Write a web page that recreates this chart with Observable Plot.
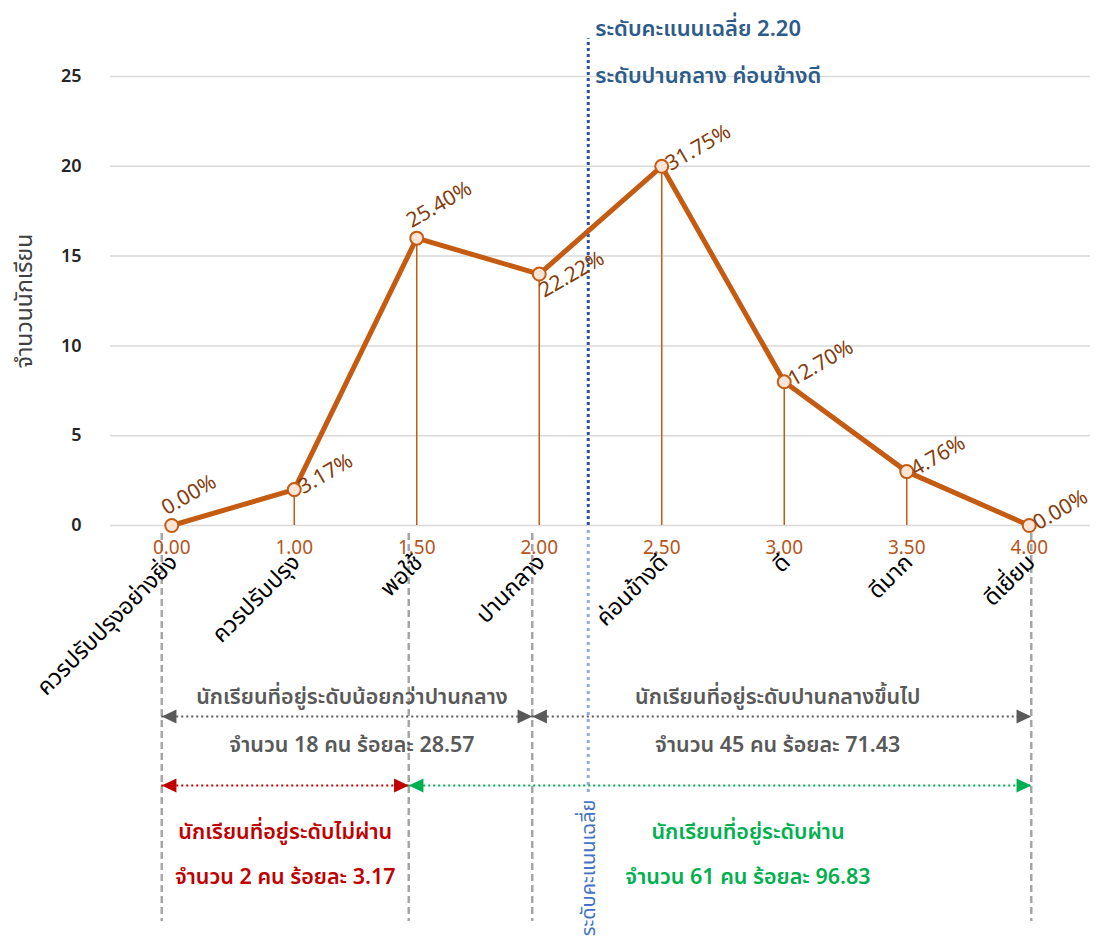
<!DOCTYPE html>
<html>
<head>
<meta charset="utf-8">
<script src="https://cdn.jsdelivr.net/npm/d3@7"></script>
<script src="https://cdn.jsdelivr.net/npm/@observablehq/plot@0.6"></script>
<style>
  body { margin: 0; background: #ffffff; }
  #chart svg { display: block; }
</style>
</head>
<body>
<div id="chart"></div>
<script>
// Score levels (categorical axis) and the number of students at each level
const scores = [0, 1, 1.5, 2, 2.5, 3, 3.5, 4];
const scoreLabels = ["0.00", "1.00", "1.50", "2.00", "2.50", "3.00", "3.50", "4.00"];
const levels = ["ควรปรับปรุงอย่างยิ่ง", "ควรปรับปรุง", "พอใช้", "ปานกลาง", "ค่อนข้างดี", "ดี", "ดีมาก", "ดีเยี่ยม"];
const students = [0, 2, 16, 14, 20, 8, 3, 0];
const yTicks = [0, 5, 10, 15, 20, 25];

// Mean score
const meanScore = 2.20;
const meanTitle = "ระดับคะแนนเฉลี่ย 2.20";
const meanLevel = "ระดับปานกลาง ค่อนข้างดี";
const meanAxisNote = "ระดับคะแนนเฉลี่ย";

// Summary ranges shown under the axis
const rangeFrom = [0, 2, 0, 1.5];
const rangeTo = [2, 4, 1.5, 4];
const rangeTitles = [
  "นักเรียนที่อยู่ระดับน้อยกว่าปานกลาง",
  "นักเรียนที่อยู่ระดับปานกลางขึ้นไป",
  "นักเรียนที่อยู่ระดับไม่ผ่าน",
  "นักเรียนที่อยู่ระดับผ่าน"
];
const rangeCounts = [18, 45, 2, 61];
const rangePercents = [28.57, 71.43, 3.17, 96.83];

// ---- layout & styling ----
const W = 1098, H = 939, MT = 76, MB = 414, ML = 110, MR = 8;
const unit = (H - MT - MB) / 25;             // pixels per student
const colPx = (W - ML - MR) / 8;              // pixels per category
const below = px => -px / unit;               // a distance under the x axis, in y units
const FONT = "Tahoma, 'Leelawadee UI', 'Noto Sans Thai', 'Noto Sans', 'DejaVu Sans', sans-serif";
const ORANGE = "#C55A11";
const rangeColors = ["#595959", "#595959", "#C00000", "#00B050"];
const rangeRowOffset = [191, 191, 260, 260];     // arrow row
const rangeTextOffset = [172, 172, 307, 307];    // title row
const rangeTextShift = [5, -4, 0, 28];           // horizontal nudge of the captions (px)
// boundary guides sit just left of their category, except the last one
const edgeNudge = s => (s < 4 ? (s === 0 ? -10 : s === 1.5 ? -8 : -7) : 2);
// where each percentage label sits relative to its point
const labelPlacement = ["above", "right", "above", "below", "right", "right", "right", "right"];

const toIdx = d3.scaleLinear(scores, d3.range(scores.length));
const edge = s => toIdx(s) + edgeNudge(s) / colPx;
const total = d3.sum(students);

const rows = scores.map((s, i) => ({
  i, score: s, label: scoreLabels[i], level: levels[i], n: students[i],
  pct: (students[i] / total * 100).toFixed(2) + "%", place: labelPlacement[i]
}));

const ranges = rangeFrom.map((f, k) => ({
  x1: edge(f), x2: edge(rangeTo[k]),
  xm: (edge(f) + edge(rangeTo[k])) / 2 + rangeTextShift[k] / colPx,
  title: rangeTitles[k],
  detail: `จำนวน ${rangeCounts[k]} คน ร้อยละ ${rangePercents[k].toFixed(2)}`,
  color: rangeColors[k], row: below(rangeRowOffset[k]),
  tTitle: below(rangeTextOffset[k]), tDetail: below(rangeTextOffset[k] + (k > 1 ? 45 : 48))
}));

const boundaries = Array.from(new Set([...rangeFrom, ...rangeTo])).sort((a, b) => a - b);

// filled triangular arrow heads with the tip at the anchor point
const headRight = { draw(ctx, size) { const r = Math.sqrt(size / Math.PI); ctx.moveTo(0, 0); ctx.lineTo(-2.1 * r, -r); ctx.lineTo(-2.1 * r, r); ctx.closePath(); } };
const headLeft = { draw(ctx, size) { const r = Math.sqrt(size / Math.PI); ctx.moveTo(0, 0); ctx.lineTo(2.1 * r, -r); ctx.lineTo(2.1 * r, r); ctx.closePath(); } };

const pctText = (place, dx, dy) => Plot.text(rows.filter(d => d.place === place), {
  x: "i", y: "n", text: "pct", rotate: -30, textAnchor: "start", lineAnchor: "bottom",
  dx, dy, fill: "#843C0C", fontSize: 21
});

const chart = Plot.plot({
  width: W, height: H,
  marginTop: MT, marginBottom: MB, marginLeft: ML, marginRight: MR,
  x: { domain: [-0.5, 7.5], axis: null },
  y: { domain: [0, 25], axis: null },
  color: { type: "identity" },
  style: { fontFamily: FONT, background: "#ffffff", overflow: "visible" },
  marks: [
    // gridlines
    Plot.ruleY(yTicks, { stroke: "#D9D9D9", strokeWidth: 1.5 }),
    // y tick labels
    Plot.text(yTicks, { frameAnchor: "left", y: d => d, text: d => String(d), textAnchor: "end", dx: -29,
      fontSize: 18, fontWeight: 600, fill: "#262626" }),
    // y axis title
    Plot.text(["จำนวนนักเรียน"], { frameAnchor: "left", textAnchor: "middle", rotate: -90, dx: -86,
      fontSize: 23, fill: "#404040" }),

    // dashed range boundaries under the axis
    Plot.ruleX(boundaries, { x: edge, y1: below(8), y2: below(396),
      stroke: "#A6A6A6", strokeWidth: 2.5, strokeDasharray: "7,4" }),

    // mean score marker
    Plot.ruleX([meanScore], { x: d => toIdx(d), y1: 0, y2: 27.1, stroke: "#2F5597", strokeWidth: 3, strokeDasharray: "3,3" }),
    Plot.ruleX([meanScore], { x: d => toIdx(d), y1: below(5), y2: below(268), stroke: "#8FAADC", strokeWidth: 3, strokeDasharray: "3,4" }),
    Plot.text([meanTitle], { x: () => toIdx(meanScore), y: 25, dy: -48, dx: 7, textAnchor: "start",
      fontSize: 22, fontWeight: 600, fill: "#2E5C8A" }),
    Plot.text([meanLevel], { x: () => toIdx(meanScore), y: 25, dy: -1, dx: 7, textAnchor: "start",
      fontSize: 22, fontWeight: 600, fill: "#2E5C8A" }),
    Plot.text([meanAxisNote], { x: () => toIdx(meanScore), y: below(274), rotate: -90, textAnchor: "end",
      fontSize: 20, fill: "#4472C4" }),

    // drop lines from each point to the axis
    Plot.ruleX(rows.filter(d => d.n > 0), { x: "i", y1: 0, y2: "n", stroke: ORANGE, strokeWidth: 1.5 }),
    // frequency polygon
    Plot.line(rows, { x: "i", y: "n", stroke: ORANGE, strokeWidth: 5, strokeLinejoin: "round" }),
    Plot.dot(rows, { x: "i", y: "n", r: 6.5, fill: "#FBE5D6", stroke: ORANGE, strokeWidth: 2 }),

    // percentage labels
    pctText("above", -5, -10),
    pctText("right", 9, 5),
    pctText("below", 5, 24),

    // x tick labels: score and level name
    Plot.text(rows, { x: "i", y: 0, text: "label", dy: 22, fontSize: 19, fill: "#B4561C" }),
    Plot.text(rows, { x: "i", y: 0, text: "level", rotate: -45, textAnchor: "end", lineAnchor: "middle",
      dx: 2, dy: 33, fontSize: 23, fill: "#000000" }),

    // range arrows
    Plot.ruleY(ranges, { x1: "x1", x2: "x2", y: "row", stroke: "color", strokeWidth: 2, strokeDasharray: "2,3" }),
    Plot.dot(ranges, { x: "x1", y: "row", symbol: headLeft, r: 7, fill: "color", stroke: null }),
    Plot.dot(ranges, { x: "x2", y: "row", symbol: headRight, r: 7, fill: "color", stroke: null }),
    Plot.text(ranges, { x: "xm", y: "tTitle", text: "title", fill: "color", fontSize: 21.5, fontWeight: 600 }),
    Plot.text(ranges, { x: "xm", y: "tDetail", text: "detail", fill: "color", fontSize: 21.5, fontWeight: 600 })
  ]
});

document.getElementById("chart").appendChild(chart);
</script>
</body>
</html>
